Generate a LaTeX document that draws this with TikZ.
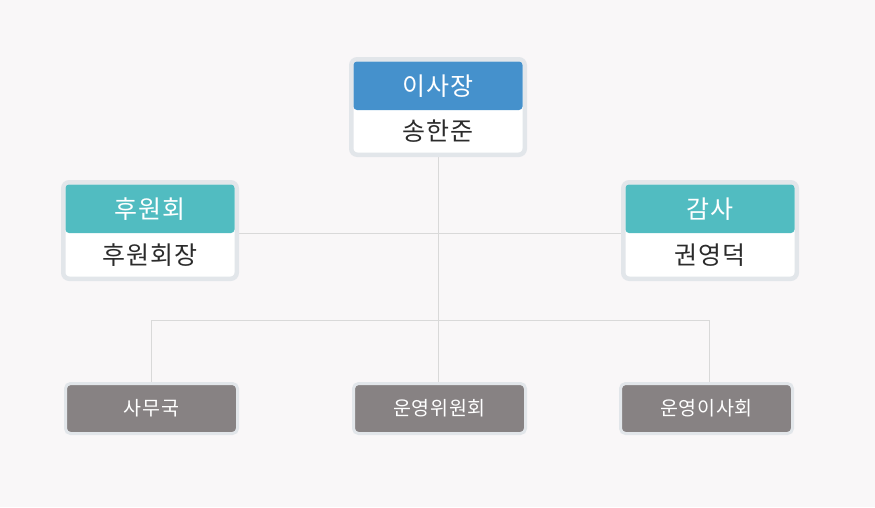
\documentclass[tikz,border=0pt]{standalone}
\usepackage{fontspec}
\setmainfont{Noto Sans CJK KR}
\usepackage{tikz}
\usetikzlibrary{backgrounds}
\usetikzlibrary{positioning}
\definecolor{pagebg}{HTML}{F9F7F8}
\definecolor{framec}{HTML}{E2E6EA}
\definecolor{headblue}{HTML}{4591CC}
\definecolor{headteal}{HTML}{51BCC1}
\definecolor{officegray}{HTML}{878283}
\definecolor{linkc}{HTML}{D9D9D9}
\definecolor{namec}{HTML}{2B2B2B}

\begin{document}
\begin{tikzpicture}[x=1pt,y=-1pt]
\useasboundingbox (0,0) rectangle (875,507);

\tikzstyle{card} = [
	draw=framec, fill=white, line width=4.5pt, rounded corners=6pt,
	minimum width=173.5pt, minimum height=96.5pt, inner sep=0pt ];
\tikzstyle{head} = [
	rectangle, rounded corners=3.5pt, text=white,
	font=\fontsize{25}{27}\selectfont\addfontfeatures{LetterSpace=4},
	minimum width=169pt, minimum height=48.5pt, inner sep=0pt ];
\tikzstyle{person} = [text=namec, inner sep=0pt,
	font=\fontsize{25}{27}\selectfont\addfontfeatures{LetterSpace=4}];
\tikzstyle{office} = [
	draw=framec, fill=officegray, line width=3pt, rounded corners=5pt,
	text=white, font=\fontsize{19.5}{21}\selectfont\addfontfeatures{LetterSpace=4},
	minimum width=172pt, minimum height=50pt, inner sep=0pt ];
\tikzstyle{link} = [draw=linkc, line width=1pt];

% top
\node[card, minimum height=95.5pt] (jangc) at (438,107) {};
\node[head, fill=headblue] (jang) at (438,85.75) {이사장};
\node[person] (jangn) at (438,131.25) {송한준};

% sides
\node[card] (huwonc) at (150,230.5) {};
\node[head, fill=headteal] (huwon) at (150,208.75) {후원회};
\node[person] (huwonn) at (150,254.75) {후원회장};

\node[card] (gamsac) at (710,230.5) {};
\node[head, fill=headteal] (gamsa) at (710,208.75) {감사};
\node[person] (gamsan) at (710,254.75) {권영덕};

% offices
\node[office] (samu) at (151.5,408.5) {사무국};
\node[office] (unyoung) at (439.5,408.5) {운영위원회};
\node[office] (unsa) at (706.5,408.5) {운영이사회};

\coordinate (busl) at (151,320);
\coordinate (busr) at (709,320);

\begin{scope}[on background layer]
\fill[pagebg] (0,0) rectangle (875,507);
\draw[link] (huwonc.east |- huwon.south) -- (gamsac.west |- gamsa.south);
\draw[link] (jangc.south) -- (jangc.south |- unyoung.north);
\draw[link] (busl) -- (busr);
\draw[link] (busl) -- (busl |- samu.north);
\draw[link] (busr) -- (busr |- unsa.north);
\end{scope}

\end{tikzpicture}
\end{document}
